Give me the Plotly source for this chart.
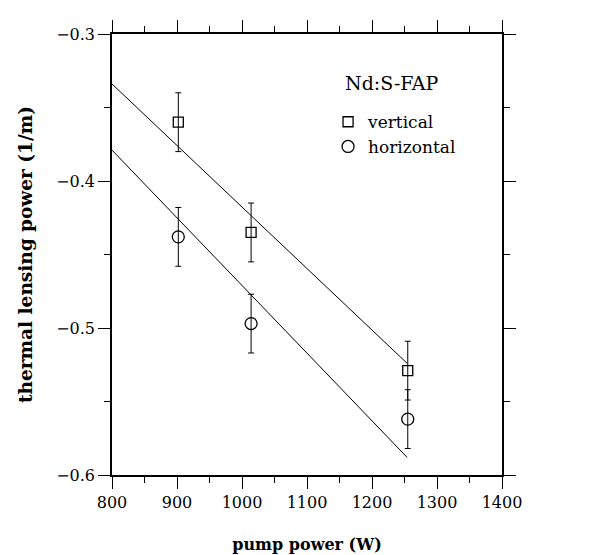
import plotly.graph_objects as go

# ---- data ----
pump_vertical = [902, 1014, 1255]
lens_vertical = [-0.360, -0.435, -0.529]
err_vertical = [0.020, 0.020, 0.020]

pump_horizontal = [902, 1014, 1255]
lens_horizontal = [-0.438, -0.497, -0.562]
err_horizontal = [0.020, 0.020, 0.020]

fit_vertical_x = [800, 1254]
fit_vertical_y = [-0.334, -0.524]
fit_horizontal_x = [800, 1254]
fit_horizontal_y = [-0.379, -0.588]

x_ticks = [800, 900, 1000, 1100, 1200, 1300, 1400]
y_ticks = [-0.6, -0.5, -0.4, -0.3]

FONT = "DejaVu Serif"

fig = go.Figure()

fig.add_trace(go.Scatter(x=fit_vertical_x, y=fit_vertical_y, mode="lines",
                         line=dict(color="black", width=1), showlegend=False,
                         hoverinfo="skip"))
fig.add_trace(go.Scatter(x=fit_horizontal_x, y=fit_horizontal_y, mode="lines",
                         line=dict(color="black", width=1), showlegend=False,
                         hoverinfo="skip"))

fig.add_trace(go.Scatter(
    x=pump_vertical, y=lens_vertical, mode="markers", name="vertical",
    marker=dict(symbol="square-open", size=10, color="black", line=dict(width=1.3)),
    error_y=dict(type="data", array=err_vertical, visible=True, color="black",
                 thickness=1, width=3),
    legend="legend"))
fig.add_trace(go.Scatter(
    x=pump_horizontal, y=lens_horizontal, mode="markers", name="horizontal",
    marker=dict(symbol="circle-open", size=12, color="black", line=dict(width=1.3)),
    error_y=dict(type="data", array=err_horizontal, visible=True, color="black",
                 thickness=1, width=3),
    legend="legend2"))

axis_common = dict(
    showline=True, linecolor="black", linewidth=1.5, mirror="ticks",
    ticks="outside", ticklen=12, tickwidth=1.3, tickcolor="black",
    showgrid=False, zeroline=False,
    tickfont=dict(family=FONT, size=16, color="black"),
)

fig.update_xaxes(range=[800, 1400], tickvals=x_ticks,
                 minor=dict(dtick=50, ticks="outside", ticklen=6, tickwidth=1.2,
                            tickcolor="black", showgrid=False),
                 title=dict(text="<b>pump power (W)</b>", standoff=28,
                            font=dict(family=FONT, size=16, color="black")),
                 **axis_common)
fig.update_yaxes(range=[-0.6, -0.3], tickvals=y_ticks, tickformat=".1f",
                 minor=dict(dtick=0.05, ticks="outside", ticklen=6, tickwidth=1.2,
                            tickcolor="black", showgrid=False),
                 title=dict(text="<b>thermal lensing power (1/m)</b>", standoff=19,
                            font=dict(family=FONT, size=18.5, color="black")),
                 **axis_common)

fig.add_annotation(x=1231, y=-0.3334, xref="x", yref="y", text="Nd:S-FAP",
                   showarrow=False, font=dict(family=FONT, size=19, color="black"))

leg_common = dict(font=dict(family=FONT, size=17, color="black"),
                  bgcolor="rgba(0,0,0,0)", borderwidth=0,
                  xanchor="left", yanchor="middle", itemclick=False)
fig.update_layout(
    width=607, height=555,
    margin=dict(l=104, r=113, t=22, b=84),
    paper_bgcolor="white", plot_bgcolor="white",
    legend=dict(x=0.554, y=0.80, **leg_common),
    legend2=dict(x=0.554, y=0.744, **leg_common),
)

fig.write_html("out.html")
